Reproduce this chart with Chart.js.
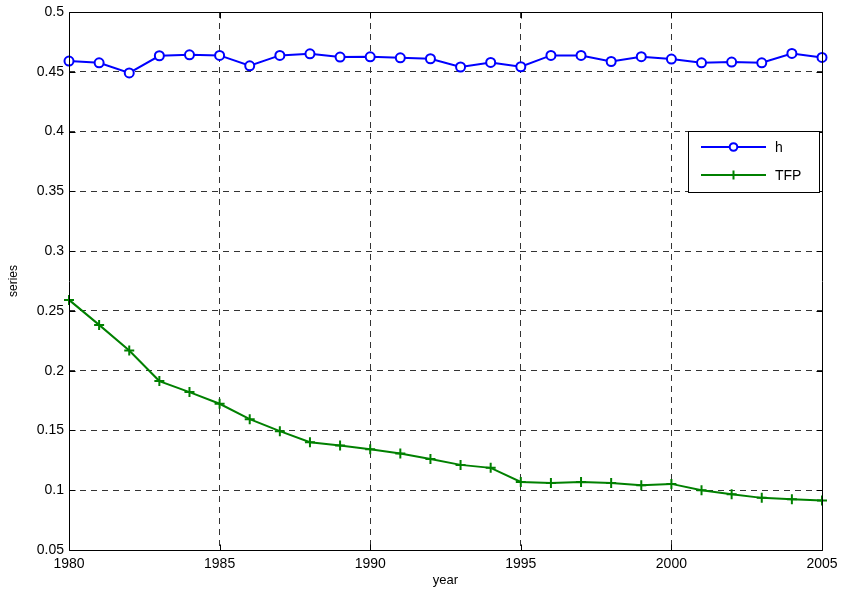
<!DOCTYPE html>
<html>
<head>
<meta charset="utf-8">
<script src="https://cdn.jsdelivr.net/npm/chart.js@4.4.1/dist/chart.umd.min.js"></script>
<style>
  html, body { margin: 0; padding: 0; background: #fff; }
  #wrap { width: 841px; height: 592px; position: relative; }
</style>
</head>
<body>
<div id="wrap"><canvas id="c" width="841" height="592"></canvas></div>
<script>
const years = [1980,1981,1982,1983,1984,1985,1986,1987,1988,1989,1990,1991,1992,1993,1994,1995,1996,1997,1998,1999,2000,2001,2002,2003,2004,2005];
const hValues = [0.459,0.4575,0.449,0.4634,0.4642,0.4637,0.455,0.4637,0.465,0.4623,0.4625,0.4617,0.4609,0.4540,0.4578,0.4542,0.4637,0.4637,0.4586,0.4626,0.4606,0.4575,0.4581,0.4575,0.4653,0.4620];
const tfpValues = [0.2592,0.2383,0.2168,0.1913,0.1821,0.1723,0.1594,0.1494,0.1402,0.1374,0.1343,0.1307,0.1262,0.1212,0.1187,0.1069,0.1061,0.1069,0.1061,0.1042,0.1053,0.1000,0.0967,0.0936,0.0925,0.0914];
const xTicks = [1980,1985,1990,1995,2000,2005];
const yTicks = [0.05,0.1,0.15,0.2,0.25,0.3,0.35,0.4,0.45,0.5];
const seriesNames = ['h','TFP'];
const xTitle = 'year';
const yTitle = 'series';

const FONT = "'Liberation Sans', Arial, Helvetica, sans-serif";

const frame = {
  id: 'frame',
  afterDatasetsDraw(chart) {
    const ctx = chart.ctx;
    const a = chart.chartArea;
    const xs = chart.scales.x, ys = chart.scales.y;
    ctx.save();
    ctx.strokeStyle = '#000';
    ctx.lineWidth = 1;
    ctx.setLineDash([]);
    ctx.beginPath();
    const L = Math.round(a.left)+0.5, R = Math.round(a.right)+0.5, T = Math.round(a.top)+0.5, B = Math.round(a.bottom)+0.5;
    ctx.rect(L, T, R-L, B-T);
    const tl = 6;
    xTicks.forEach(v => {
      const px = Math.round(xs.getPixelForValue(v)) + 0.5;
      ctx.moveTo(px, B); ctx.lineTo(px, B - tl);
      ctx.moveTo(px, T); ctx.lineTo(px, T + tl);
    });
    yTicks.forEach(v => {
      const py = Math.round(ys.getPixelForValue(v)) + 0.5;
      ctx.moveTo(L, py); ctx.lineTo(L + tl, py);
      ctx.moveTo(R, py); ctx.lineTo(R - tl, py);
    });
    ctx.stroke();

    // legend
    const bx = 688.5, by = 131.5, bw = 131, bh = 61;
    ctx.fillStyle = '#fff';
    ctx.fillRect(bx, by, bw, bh);
    ctx.strokeRect(bx, by, bw, bh);
    const rows = [147, 175];
    chart.data.datasets.forEach((ds, i) => {
      const y = rows[i];
      ctx.strokeStyle = ds.borderColor;
      ctx.lineWidth = ds.borderWidth;
      ctx.beginPath();
      ctx.moveTo(701, y); ctx.lineTo(766, y);
      ctx.stroke();
      ctx.lineWidth = ds.pointBorderWidth;
      if (ds.pointStyle === 'circle') {
        ctx.beginPath();
        ctx.arc(733.5, y, 3.8, 0, Math.PI*2);
        ctx.fillStyle = '#fff';
        ctx.fill();
        ctx.stroke();
      } else {
        ctx.beginPath();
        ctx.moveTo(733.5 - 4.5, y); ctx.lineTo(733.5 + 4.5, y);
        ctx.moveTo(733.5, y - 4.5); ctx.lineTo(733.5, y + 4.5);
        ctx.stroke();
      }
      ctx.fillStyle = '#000';
      ctx.font = '14px ' + FONT;
      ctx.textBaseline = 'middle';
      ctx.textAlign = 'left';
      ctx.fillText(ds.label, 775, y + 1);
    });
    ctx.restore();
  }
};

new Chart(document.getElementById('c'), {
  type: 'line',
  data: {
    datasets: [
      {
        label: seriesNames[0],
        data: years.map((y, i) => ({x: y, y: hValues[i]})),
        borderColor: '#0000ff',
        backgroundColor: '#0000ff',
        borderWidth: 2,
        pointStyle: 'circle',
        pointRadius: 4.5,
        pointBorderWidth: 2,
        pointBackgroundColor: '#ffffff',
        pointBorderColor: '#0000ff',
        tension: 0,
        clip: false
      },
      {
        label: seriesNames[1],
        data: years.map((y, i) => ({x: y, y: tfpValues[i]})),
        borderColor: '#008000',
        backgroundColor: '#008000',
        borderWidth: 2,
        pointStyle: 'cross',
        pointRadius: 5,
        pointBorderWidth: 2,
        pointBorderColor: '#008000',
        tension: 0,
        clip: false
      }
    ]
  },
  options: {
    responsive: false,
    animation: false,
    devicePixelRatio: 1,
    layout: { padding: { top: 12, right: 19, left: 0, bottom: 0 } },
    plugins: { legend: { display: false }, tooltip: { enabled: false } },
    scales: {
      x: {
        type: 'linear',
        min: 1980, max: 2005,
        afterBuildTicks(s) { s.ticks = xTicks.map(v => ({value: v})); },
        afterFit(s) { s.height = 42; s.paddingLeft = 0; s.paddingRight = 0; },
        ticks: {
          color: '#000',
          font: { family: FONT, size: 14 },
          padding: 6,
          maxRotation: 0,
          callback: v => String(v)
        },
        grid: {
          drawTicks: false,
          color: (c) => (c.tick && (c.tick.value === 1980 || c.tick.value === 2005)) ? 'rgba(0,0,0,0)' : '#333',
          lineWidth: 1
        },
        border: { display: false, dash: [6, 5] },
        title: {
          display: true, text: xTitle, color: '#000',
          font: { family: FONT, size: 13 },
          padding: { top: 0, bottom: 4 }
        }
      },
      y: {
        type: 'linear',
        min: 0.05, max: 0.5,
        afterBuildTicks(s) { s.ticks = yTicks.map(v => ({value: v})); },
        afterFit(s) { s.width = 69; s.paddingTop = 0; s.paddingBottom = 0; },
        ticks: {
          color: '#000',
          font: { family: FONT, size: 14 },
          padding: 5,
          callback: v => String(Math.round(v*100)/100)
        },
        grid: {
          drawTicks: false,
          color: (c) => (c.tick && (Math.abs(c.tick.value - 0.05) < 1e-9 || Math.abs(c.tick.value - 0.5) < 1e-9)) ? 'rgba(0,0,0,0)' : '#333',
          lineWidth: 1
        },
        border: { display: false, dash: [6, 5] },
        title: {
          display: true, text: yTitle, color: '#000',
          font: { family: FONT, size: 12 },
          padding: { top: 6, bottom: 0 }
        }
      }
    }
  },
  plugins: [frame]
});
</script>
</body>
</html>
